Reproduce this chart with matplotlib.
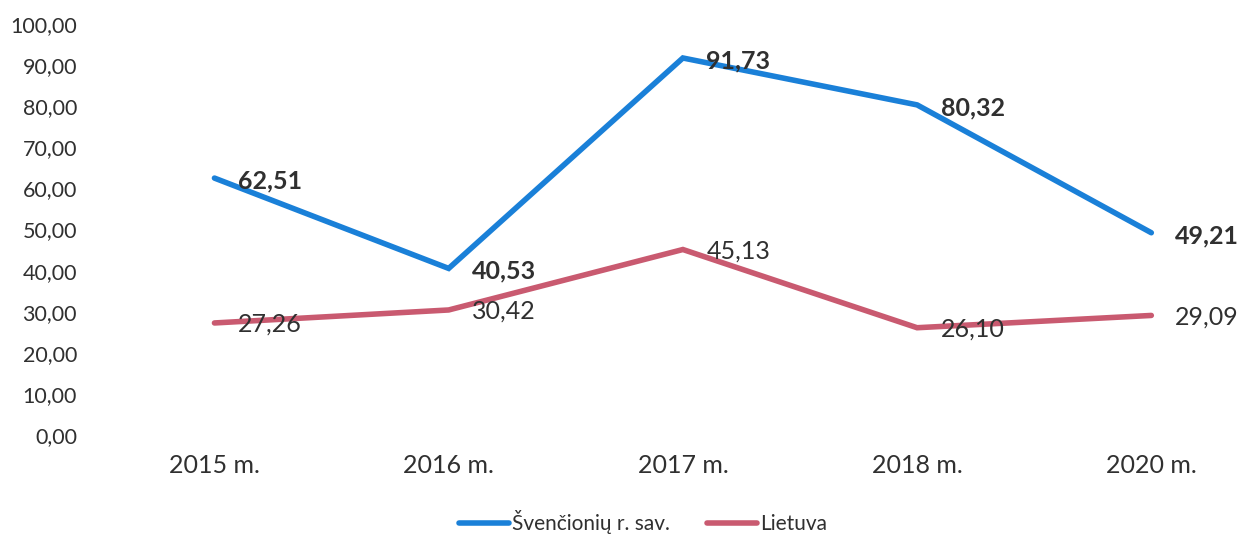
import matplotlib
matplotlib.use("Agg")
import matplotlib.pyplot as plt

plt.rcParams['font.family'] = ['Lato', 'DejaVu Sans']

categories = ["2015 m.", "2016 m.", "2017 m.", "2018 m.", "2020 m."]
svencioniu = [62.51, 40.53, 91.73, 80.32, 49.21]
lietuva = [27.26, 30.42, 45.13, 26.10, 29.09]
series_names = ["Švenčionių r. sav.", "Lietuva"]
yticks = list(range(0, 101, 10))

blue = "#1a80d8"
red = "#c95a70"
txt = "#303030"

fig = plt.figure(figsize=(12.45, 5.35), dpi=100)
ax = fig.add_axes([95/1245, 1 - 435/535, (1245-95)/1245, (435-24)/535])

x = list(range(len(categories)))
ax.plot(x, svencioniu, color=blue, lw=4, solid_capstyle='round', solid_joinstyle='miter', label=series_names[0])
ax.plot(x, lietuva, color=red, lw=4, solid_capstyle='round', solid_joinstyle='miter', label=series_names[1])

def fmt(v):
    return f"{v:.2f}".replace(".", ",")

for xi, v in zip(x, svencioniu):
    ax.annotate(fmt(v), (xi, v), xytext=(17, -2), textcoords='offset points',
                ha='left', va='center', fontsize=18, fontweight='bold', color=txt)
for xi, v in zip(x, lietuva):
    ax.annotate(fmt(v), (xi, v), xytext=(17, -1), textcoords='offset points',
                ha='left', va='center', fontsize=18, color=txt)

ax.set_ylim(0, 100)
ax.set_xlim(-0.51, 4.40)
ax.set_yticks(yticks)
ax.set_yticklabels([fmt(t) for t in yticks], fontsize=15.5, color=txt)
ax.set_xticks(x)
ax.set_xticklabels(categories, fontsize=18, color=txt)
ax.tick_params(axis='both', length=0)
ax.tick_params(axis='y', pad=13)
ax.tick_params(axis='x', pad=14)
for s in ax.spines.values():
    s.set_visible(False)

leg = fig.legend(loc='center', bbox_to_anchor=(643/1245, 1 - 522/535), ncol=2,
                 frameon=False, fontsize=15, handlelength=2.4, handletextpad=0.15,
                 columnspacing=1.8)
for t in leg.get_texts():
    t.set_color(txt)

fig.savefig("out.png", dpi=100)
